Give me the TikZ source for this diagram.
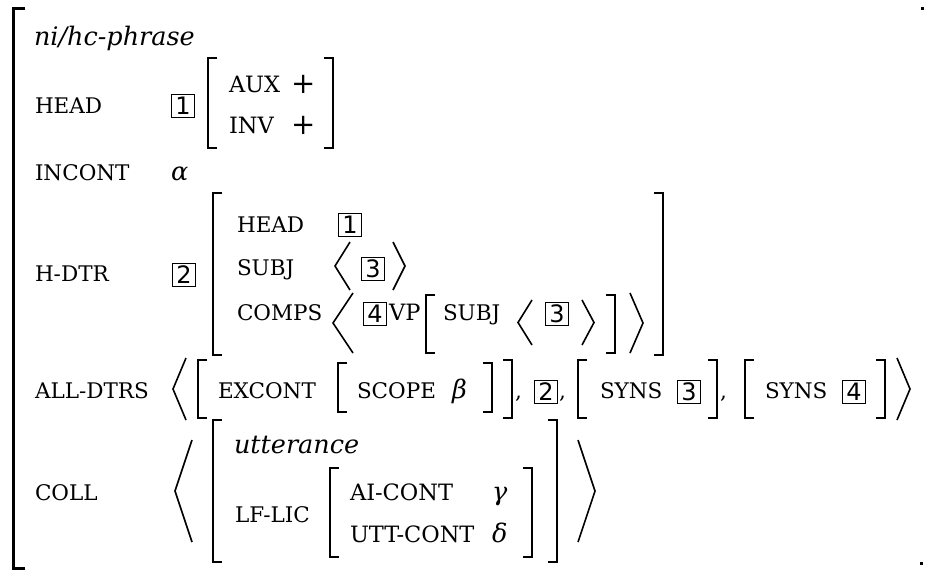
\documentclass[tikz,border=0pt]{standalone}
\usepackage{fontspec}
\setmainfont{DejaVu Serif}
\newfontfamily\tagfont{DejaVu Sans}
\newcommand{\Lbr}[4]{\draw[#4] (#1+9,#2) -- (#1,#2) -- (#1,#3) -- (#1+9,#3);}
\newcommand{\Rbr}[4]{\draw[#4] (#1-9,#2) -- (#1,#2) -- (#1,#3) -- (#1-9,#3);}
\newcommand{\Lang}[4]{\draw[ang] (#2,#3) -- (#1,{(#3+#4)/2}) -- (#2,#4);}
\newcommand{\Rang}[4]{\draw[ang] (#1,#3) -- (#2,{(#3+#4)/2}) -- (#1,#4);}
\begin{document}
\begin{tikzpicture}[x=1pt,y=-1pt,
  lbl/.style={anchor=base west,inner sep=0pt,outer sep=0pt,font=\fontsize{21.5}{21.5}\selectfont},
  capl/.style={anchor=base west,inner sep=0pt,outer sep=0pt,font=\fontsize{22.5}{22.5}\selectfont},
  ty/.style={anchor=base west,inner sep=0pt,outer sep=0pt,font=\fontsize{25.5}{25.5}\selectfont\itshape},
  sym/.style={anchor=base west,inner sep=0pt,outer sep=0pt,font=\fontsize{29}{29}\selectfont},
  tagb/.style={draw,line width=1.1pt,inner sep=0pt,minimum width=23pt,minimum height=23pt,font=\tagfont\fontsize{24}{24}\selectfont},
  brk/.style={line width=2pt},
  obrk/.style={line width=3pt},
  ang/.style={line width=1.6pt}
]
\useasboundingbox (0,0) rectangle (925,571);
\fill[white] (0,0) rectangle (925,571);

% outer bracket
\draw[obrk] (25,8) -- (13,8) -- (13,568) -- (25,568);
\fill (921,7) rectangle (923.5,9.5);
\fill (920,562) rectangle (922.5,564.5);

% type
\node[ty] (type) at (34,45) {ni/hc-phrase};

% HEAD
\node[lbl] (head) at (35,113) {HEAD};
\node[tagb] (t1a) at (183,106) {1};
\Lbr{208}{58}{148}{brk}
\node[capl] (aux) at (229,92) {AUX};
\node[sym] (p1) at (291,93) {+};
\node[capl] (inv) at (229,133) {INV};
\node[sym] (p2) at (291,134) {+};
\Rbr{333}{58}{148}{brk}

% INCONT
\node[lbl] (incont) at (35,180) {INCONT};
\node[ty] (alpha) at (171,180) {α};

% H-DTR
\node[lbl] (hdtr) at (35,281) {H-DTR};
\node[tagb] (t2a) at (184,275) {2};
\Lbr{213}{193}{355}{brk}
\node[lbl] (head2) at (237,232) {HEAD};
\node[tagb] (t1b) at (350,225) {1};
\node[lbl] (subj) at (237,275) {SUBJ};
\Lang{335}{350}{242}{290}
\node[tagb] (t3a) at (373,269) {3};
\Rang{393}{405}{242}{290}
\node[lbl] (comps) at (237,320) {COMPS};
\Lang{333}{353}{293}{353}
\node[tagb] (t4a) at (375,314) {4};
\node[capl] (vp) at (389,320) {VP};
\Lbr{426}{295}{353}{brk}
\node[lbl] (subj2) at (443,320) {SUBJ};
\Lang{518}{532}{300}{345}
\node[tagb] (t3b) at (557,314) {3};
\Rang{582}{594}{300}{345}
\Rbr{615}{295}{353}{brk}
\Rang{630}{643}{293}{353}
\Rbr{663}{193}{355}{brk}

% ALL-DTRS
\node[lbl] (alldtrs) at (35,398) {ALL-DTRS};
\Lang{173}{186}{358}{420}
\Lbr{198}{360}{418}{brk}
\node[lbl] (excont) at (218,398) {EXCONT};
\Lbr{338}{363}{412}{brk}
\node[lbl] (scope) at (357,398) {SCOPE};
\node[ty] (beta) at (452,398) {β};
\Rbr{492}{363}{412}{brk}
\Rbr{512}{360}{418}{brk}
\node[lbl] (c1) at (515,398) {,};
\node[tagb] (t2b) at (546,392) {2};
\node[lbl] (c2) at (559,398) {,};
\Lbr{578}{360}{418}{brk}
\node[lbl] (syns1) at (600,398) {SYNS};
\node[tagb] (t3c) at (689,392) {3};
\Rbr{717}{360}{418}{brk}
\node[lbl] (c3) at (720,398) {,};
\Lbr{745}{360}{418}{brk}
\node[lbl] (syns2) at (765,398) {SYNS};
\node[tagb] (t4b) at (854,392) {4};
\Rbr{885}{360}{418}{brk}
\Rang{897}{910}{358}{420}

% COLL
\node[lbl] (coll) at (35,500) {COLL};
\Lang{175}{192}{440}{542}
\Lbr{213}{420}{562}{brk}
\node[ty] (utt) at (234,453) {utterance};
\node[lbl] (lflic) at (235,522) {LF-LIC};
\Lbr{330}{468}{557}{brk}
\node[capl] (aicont) at (350,500) {AI-CONT};
\node[ty] (gamma) at (492,500) {γ};
\node[capl] (uttcont) at (350,542) {UTT-CONT};
\node[ty] (delta) at (492,542) {δ};
\Rbr{532}{468}{557}{brk}
\Rbr{557}{420}{562}{brk}
\Rang{578}{595}{440}{542}
\end{tikzpicture}
\end{document}
